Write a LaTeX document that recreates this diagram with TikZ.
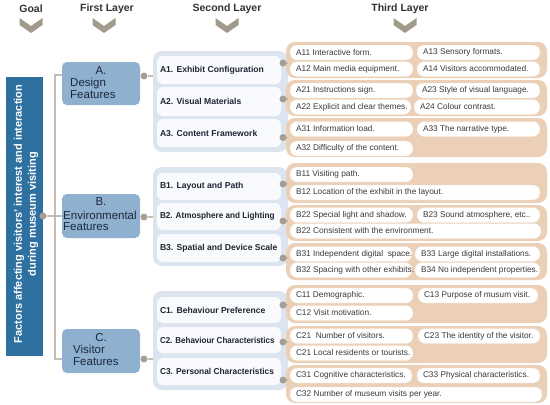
\documentclass[tikz,border=0pt]{standalone}
\usepackage{fontspec}
\setmainfont{Liberation Sans}
\definecolor{goalc}{HTML}{2E70A0}
\definecolor{firstc}{HTML}{8FB0CF}
\definecolor{firsttx}{HTML}{1A2A3F}
\definecolor{secbg}{HTML}{DCE5EF}
\definecolor{secbox}{HTML}{F8FAFD}
\definecolor{sectx}{HTML}{1E2632}
\definecolor{tanc}{HTML}{EBCFB6}
\definecolor{pilledge}{HTML}{F2E2D3}
\definecolor{thtx}{HTML}{3A3A3A}
\definecolor{dotc}{HTML}{A69E94}
\definecolor{linec}{HTML}{C4BDB4}
\definecolor{hdrc}{HTML}{333333}
\definecolor{chevc}{HTML}{A29A8D}
\tikzset{
 hdr/.style={font=\fontsize{10.5}{12}\selectfont\bfseries, text=hdrc, inner sep=0},
 goalbox/.style={fill=goalc, draw=none, inner sep=0},
 firstbox/.style={fill=firstc, rounded corners=5pt, inner sep=0},
 firsttext/.style={font=\fontsize{11.5}{11.5}\selectfont, text=firsttx, inner sep=0, align=left},
 cont2/.style={fill=secbg, rounded corners=9pt, inner sep=0},
 box2/.style={fill=secbox, rounded corners=6pt, inner sep=0, font=\fontsize{8.6}{10}\selectfont\bfseries, text=sectx},
 cont3/.style={fill=tanc, rounded corners=9pt, inner sep=0},
 pill/.style={fill=white, draw=pilledge, line width=0.4pt, rounded corners=7pt, inner sep=0, minimum height=15pt, font=\fontsize{8.3}{10}\selectfont, text=thtx},
 dot/.style={circle, fill=dotc, inner sep=0, minimum size=7pt},
 conn/.style={draw=linec, line width=1.1pt},
}
\newcommand\rbox[6]{%
 \pgfmathsetmacro\rbW{#5-#3}\pgfmathsetmacro\rbH{#6-#4}%
 \pgfmathsetmacro\rbX{(#3+#5)/2}\pgfmathsetmacro\rbY{(#4+#6)/2}%
 \node[#1, minimum width=\rbW pt, minimum height=\rbH pt] (#2) at (\rbX,\rbY) {};}
\newcommand\pl[5]{%
 \pgfmathsetmacro\plW{#3-#2}\pgfmathsetmacro\plX{(#2+#3)/2}\pgfmathsetmacro\plT{#3-#2-12}%
 \node[pill, minimum width=\plW pt] (#1) at (\plX,#4) {\makebox[\plT pt][l]{#5}};}
\newcommand\sbx[4]{%
 \pgfmathsetmacro\sbH{#3-#2}\pgfmathsetmacro\sbY{(#2+#3)/2}%
 \node[box2, minimum width=124pt, minimum height=\sbH pt] (#1) at (219,\sbY) {\makebox[118pt][l]{#4}};}
\newcommand\chev[1]{\fill[chevc] ({#1-11.5},18) -- (#1,26) -- ({#1+11.5},18) -- ({#1+11.5},25) -- (#1,33) -- ({#1-11.5},25) -- cycle;}
\begin{document}
\begin{tikzpicture}[x=1pt,y=-1pt]
\useasboundingbox (0,0) rectangle (550,405);
% headers
\node[hdr] (h1) at (31,9) {Goal};
\node[hdr] (h2) at (107,9) {First Layer};
\node[hdr] (h3) at (227,9) {Second\ Layer};
\node[hdr] (h4) at (400,9) {Third Layer};
\chev{31}\chev{104}\chev{227}\chev{405}
% goal
\rbox{goalbox}{goal}{6}{77}{43}{356}
\node[rotate=90, align=center, text=white, font=\fontsize{11}{14}\selectfont\bfseries, inner sep=0] (goaltxt) at (26,214) {Factors affecting visitors' interest and interaction\\during museum visiting};
% first layer
\rbox{firstbox}{A}{62}{62}{140}{105}
\node[firsttext] (Ah) at (101,71) {A.};
\node[firsttext, anchor=west] (At) at (70,88.5) {Design\\Features};
\rbox{firstbox}{B}{62}{194}{140}{238}
\node[firsttext] (Bh) at (101,202) {B.};
\node[firsttext, anchor=west] (Bt) at (63,221) {Environmental\\Features};
\rbox{firstbox}{C}{62}{329}{140}{373}
\node[firsttext] (Ch) at (101,338) {C.};
\node[firsttext, anchor=west] (Ct) at (73,355.5) {Visitor\\Features};
% second layer containers
\rbox{cont2}{cA}{153}{51}{288}{152}
\rbox{cont2}{cB}{153}{167}{288}{266}
\rbox{cont2}{cC}{153}{291}{288}{390}
\sbx{A1}{56}{84}{A1. Exhibit Configuration}
\sbx{A2}{87}{116}{A2. Visual Materials}
\sbx{A3}{119}{147}{A3. Content Framework}
\sbx{B1}{173}{200}{B1. Layout and Path}
\sbx{B2}{203}{230}{\scalebox{0.95}[1]{B2. Atmosphere and Lighting}}
\sbx{B3}{234}{262}{B3. Spatial and Device Scale}
\sbx{C1}{297}{323}{C1. Behaviour Preference}
\sbx{C2}{327}{353}{\scalebox{0.93}[1]{C2. Behaviour Characteristics}}
\sbx{C3}{358}{385}{\scalebox{0.97}[1]{C3. Personal Characteristics}}
% third layer containers
\rbox{cont3}{tA1}{286}{42}{547}{78}
\rbox{cont3}{tA2}{286}{80}{547}{116}
\rbox{cont3}{tA3}{286}{118}{547}{157}
\rbox{cont3}{tB1}{286}{163}{547}{203}
\rbox{cont3}{tB2}{286}{205}{547}{241}
\rbox{cont3}{tB3}{286}{243}{547}{280}
\rbox{cont3}{tC1}{286}{285}{547}{323}
\rbox{cont3}{tC2}{286}{326}{547}{363}
\rbox{cont3}{tC3}{286}{365}{547}{403}
% pills
\pl{pA11}{290}{413}{52.5}{A11 Interactive form.}
\pl{pA13}{417}{540}{52.5}{A13 Sensory formats.}
\pl{pA12}{290}{413}{69}{A12 Main media equipment.}
\pl{pA14}{417}{540}{69}{A14 Visitors accommodated.}
\pl{pA21}{290}{413}{90.5}{A21 Instructions sign.}
\pl{pA23}{416}{540}{90.5}{A23 Style of visual language.}
\pl{pA22}{290}{411}{107}{A22 Explicit and clear themes.}
\pl{pA24}{414}{540}{107}{A24 Colour contrast.}
\pl{pA31}{290}{413}{129}{A31 Information load.}
\pl{pA33}{417}{540}{129}{A33 The narrative type.}
\pl{pA32}{290}{413}{148.5}{A32 Difficulty of the content.}
\pl{pB11}{290}{413}{174.5}{B11 Visiting path.}
\pl{pB12}{290}{540}{192.5}{B12 Location of the exhibit in the layout.}
\pl{pB22}{290}{413}{215}{B22 Special light and shadow.}
\pl{pB23}{417}{540}{215}{B23 Sound atmosphere, etc..}
\pl{pB22b}{290}{541}{231}{B22 Consistent with the environment.}
\pl{pB31}{290}{412}{254}{B31 Independent digital\ \ space.}
\pl{pB33}{415}{540}{254}{B33 Large digital installations.}
\pl{pB32}{290}{412}{270}{B32 Spacing with other exhibits.}
\pl{pB34}{415}{540}{270}{B34 No independent properties.}
\pl{pC11}{290}{413}{295.5}{C11 Demographic.}
\pl{pC13}{418}{538}{295.5}{C13 Purpose of musum visit.}
\pl{pC12}{290}{413}{313}{C12 Visit motivation.}
\pl{pC21}{290}{413}{336}{C21\ \ Number of visitors.}
\pl{pC23}{418}{540}{336}{C23 The identity of the visitor.}
\pl{pC21b}{290}{413}{353}{C21 Local residents or tourists.}
\pl{pC31}{290}{412}{375.5}{C31 Cognitive characteristics.}
\pl{pC33}{417}{540}{375.5}{C33 Physical characteristics.}
\pl{pC32}{290}{542}{394.5}{C32 Number of museum visits per year.}
% connectors goal -> first
\coordinate (vt) at (55,75);
\coordinate (vb) at (55,359);
\draw[conn] (A.west |- vt) -- (vt) -- (vb) -- (C.west |- vb);
\node[dot] (gd) at (43,216) {};
\draw[conn] (gd) -- (gd -| B.west);
% first -> second
\node[dot] (Ad) at (144,76) {};
\node[dot] (Bd) at (144,217) {};
\node[dot] (Cd) at (144,359) {};
\draw[conn] (Ad) -- (Ad -| cA.west);
\draw[conn] (Bd) -- (Bd -| cB.west);
\draw[conn] (Cd) -- (Cd -| cC.west);
% second -> third
\foreach \nm/\yy/\tg in {dA1/63/tA1, dA2/99/tA2, dA3/137.5/tA3, dB1/184/tB1, dB2/221/tB2, dB3/258/tB3, dC1/305/tC1, dC2/342/tC2, dC3/380/tC3}{
  \draw[conn] (283,\yy) -- ([xshift=2pt]\tg.west |- 0,\yy);
  \node[dot] (\nm) at (283,\yy) {};
}
\end{tikzpicture}
\end{document}
